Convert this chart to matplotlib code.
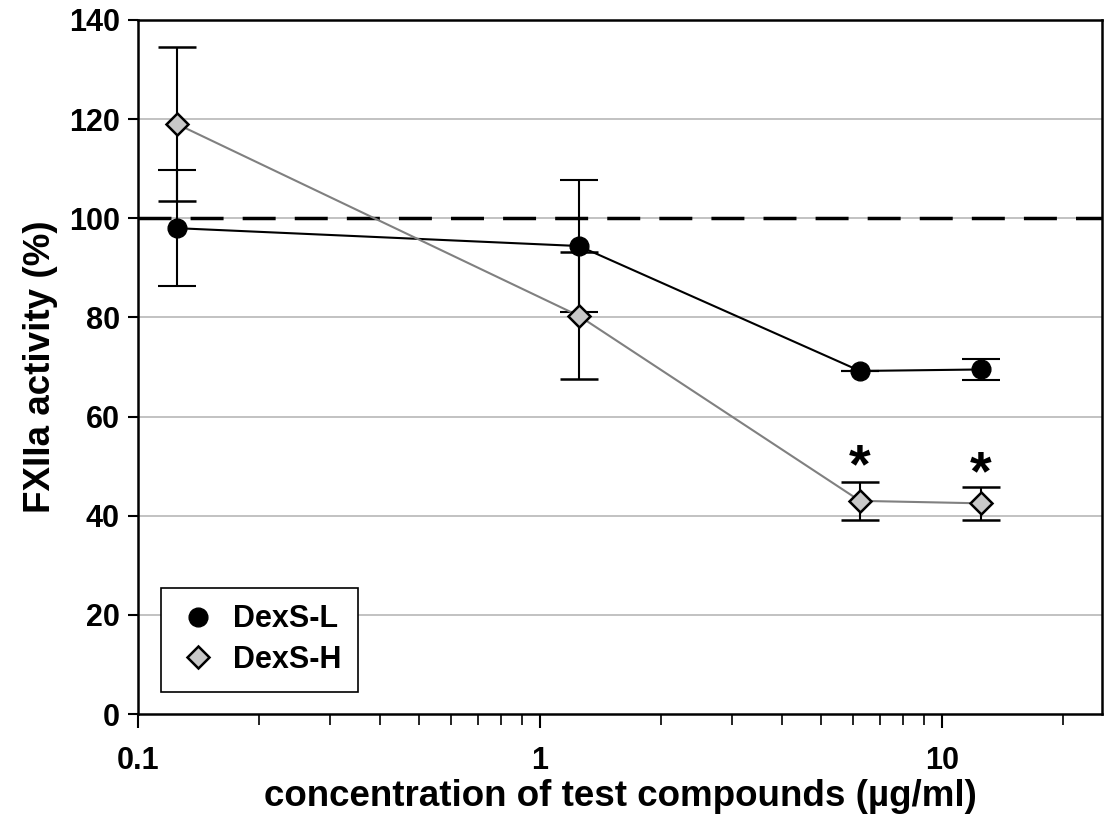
import matplotlib.pyplot as plt
from matplotlib.lines import Line2D
from matplotlib.ticker import FixedLocator, NullFormatter, LogLocator

# concentrations (ug/ml)
conc = [0.125, 1.25, 6.25, 12.5]

dexs_l = [98.0, 94.4, 69.2, 69.5]
dexs_l_err = [11.7, 13.3, 0.0, 2.2]

dexs_h = [119.0, 80.3, 43.0, 42.5]
dexs_h_err = [15.6, 12.8, 3.8, 3.3]

# significance marks above DexS-H points
star_x = [6.25, 12.5]
star_y = [49.6, 48.2]

yticks = [0, 20, 40, 60, 80, 100, 120, 140]
xticks = [0.1, 1, 10]
xticklabels = ['0.1', '1', '10']

plt.rcParams['font.family'] = ['Liberation Sans', 'DejaVu Sans']

fig = plt.figure(figsize=(11.07, 8.18), dpi=100)
ax = fig.add_axes([0.1247, 0.1271, 0.8708, 0.8485])

ax.set_xscale('log')
ax.set_xlim(0.1, 25)
ax.set_ylim(0, 140)

for y in yticks[1:-1]:
    ax.axhline(y, color='#b8b8b8', lw=1.2, zorder=0)
ax.axhline(100, color='black', lw=2.5, dashes=(9.5, 5.5), zorder=1)

ax.errorbar(conc, dexs_l, yerr=dexs_l_err, color='black', lw=1.5,
            marker='o', ms=13.5, mfc='black', mec='black',
            ecolor='black', elinewidth=1.5, capsize=14, capthick=1.5,
            zorder=3)
ax.errorbar(conc, dexs_h, yerr=dexs_h_err, color='#808080', lw=1.5,
            marker='D', ms=11.5, mfc='#c8c8c8', mec='black', mew=1.8,
            ecolor='black', elinewidth=1.5, capsize=14, capthick=1.5,
            zorder=4)

for sx, sy in zip(star_x, star_y):
    ax.text(sx, sy, '*', ha='center', va='center', fontsize=40,
            fontweight='bold')

ax.set_yticks(yticks)
ax.set_yticklabels([str(v) for v in yticks], fontsize=22, fontweight='bold')
ax.xaxis.set_major_locator(FixedLocator(xticks))
ax.set_xticklabels(xticklabels, fontsize=22, fontweight='bold')
ax.xaxis.set_minor_locator(LogLocator(base=10, subs=range(2, 10)))
ax.xaxis.set_minor_formatter(NullFormatter())

ax.tick_params(axis='y', direction='out', length=7, width=1.5, pad=6)
ax.tick_params(axis='x', which='major', direction='out', length=10, width=1.5, pad=13)
ax.tick_params(axis='x', which='minor', direction='out', length=8, width=1.2)
for s in ax.spines.values():
    s.set_linewidth(1.8)

ax.set_ylabel('FXIIa activity (%)', fontsize=26.5, fontweight='bold', labelpad=8)
ax.set_xlabel('concentration of test compounds (\u00b5g/ml)', fontsize=26.5,
              fontweight='bold', labelpad=2)

handles = [
    Line2D([], [], ls='none', marker='o', ms=13.5, mfc='black', mec='black'),
    Line2D([], [], ls='none', marker='D', ms=11.5, mfc='#c8c8c8', mec='black', mew=1.8),
]
leg = ax.legend(handles, ['DexS-L', 'DexS-H'], loc='lower left',
                bbox_to_anchor=(0.024, 0.032), borderaxespad=0,
                prop={'weight': 'bold', 'size': 22}, frameon=True, fancybox=False,
                edgecolor='black', framealpha=1, handletextpad=0.5,
                borderpad=0.55, labelspacing=0.35, handlelength=1.3)
leg.get_frame().set_linewidth(1.2)

fig.savefig('out.png', dpi=100)
